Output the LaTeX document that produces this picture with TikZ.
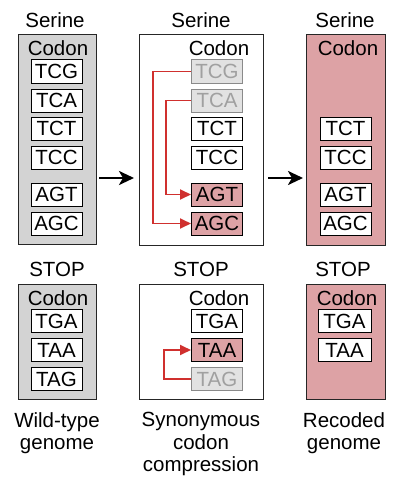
\documentclass[tikz,border=0pt]{standalone}
\usepackage{fontspec}
\setmainfont{Liberation Sans}
\usetikzlibrary{arrows.meta}
\definecolor{panelgray}{HTML}{D3D3D3}
\definecolor{pinkfill}{HTML}{DDA2A5}
\definecolor{ghostfill}{HTML}{E2E2E2}
\definecolor{ghostline}{HTML}{8A8A8A}
\definecolor{ghosttext}{HTML}{A0A0A0}
\definecolor{arrred}{HTML}{D0302E}
\begin{document}
\begin{tikzpicture}[x=1pt,y=-1pt,
  txt/.style={font=\fontsize{20.5}{22}\selectfont, inner sep=0pt},
  caption/.style={font=\fontsize{20.5}{22.5}\selectfont, inner sep=0pt, align=center, anchor=north},
  panel/.style={draw=black!85, line width=1pt},
  cbox/.style={draw=black, line width=1pt, fill=white, minimum width=51pt, minimum height=23pt, inner sep=0pt, font=\fontsize{20.5}{22}\selectfont},
  pinkbox/.style={cbox, fill=pinkfill},
  ghostbox/.style={cbox, fill=ghostfill, draw=ghostline, text=ghosttext},
  redarrow/.style={draw=arrred, line width=1.8pt, -{Triangle[length=11pt,width=10pt]}},
  blkarrow/.style={draw=black, line width=2.6pt, -{Stealth[length=15pt,width=14pt,inset=4pt]}}
]
\useasboundingbox (0,0) rectangle (401,495);
% ---------- top row ----------
\node[txt] (s1) at (55,20) {Serine};
\node[txt] (s2) at (201,20) {Serine};
\node[txt] (s3) at (345,20) {Serine};
\draw[panel, fill=panelgray] (18,35) rectangle (96,244);
\draw[panel, fill=white] (139,35) rectangle (263,245);
\draw[panel, fill=pinkfill] (306,35) rectangle (385,245);
\node[txt] (c1) at (58,48) {Codon};
\node[txt] (c2) at (219,48) {Codon};
\node[txt] (c3) at (348,48) {Codon};
% panel 1
\node[cbox] (a1) at (56.5,71.5) {TCG};
\node[cbox] (a2) at (56.5,100.5) {TCA};
\node[cbox] (a3) at (56.5,128.5) {TCT};
\node[cbox] (a4) at (56.5,157.5) {TCC};
\node[cbox] (a5) at (56.5,194.5) {AGT};
\node[cbox] (a6) at (56.5,223.5) {AGC};
% panel 2
\node[ghostbox] (b1) at (217,71.5) {TCG};
\node[ghostbox] (b2) at (217,100.5) {TCA};
\node[cbox] (b3) at (217,128.5) {TCT};
\node[cbox] (b4) at (217,157.5) {TCC};
\node[pinkbox] (b5) at (217,194.5) {AGT};
\node[pinkbox] (b6) at (217,223.5) {AGC};
% panel 3
\node[cbox] (d3) at (345.5,128.5) {TCT};
\node[cbox] (d4) at (345.5,157.5) {TCC};
\node[cbox] (d5) at (345.5,194.5) {AGT};
\node[cbox] (d6) at (345.5,223.5) {AGC};
% red arrows
\draw[redarrow] (b1.west) -| (153,223.5) -- (b6.west);
\draw[redarrow] (b2.west) -| (166,194.5) -- (b5.west);
% black arrows
\coordinate (k1) at (99,178);
\coordinate (k2) at (134,178);
\coordinate (k3) at (268,178);
\coordinate (k4) at (303,178);
\draw[blkarrow] (k1) -- (k2);
\draw[blkarrow] (k3) -- (k4);
% ---------- bottom row ----------
\node[txt] (t1) at (57,269) {STOP};
\node[txt] (t2) at (201,269) {STOP};
\node[txt] (t3) at (343,269) {STOP};
\draw[panel, fill=panelgray] (18,284) rectangle (96,399);
\draw[panel, fill=white] (139,284) rectangle (263,399);
\draw[panel, fill=pinkfill] (306,284) rectangle (385,399);
\node[txt] (e1) at (58,298) {Codon};
\node[txt] (e2) at (219,298) {Codon};
\node[txt] (e3) at (347,298) {Codon};
\node[cbox] (f1) at (56.5,321) {TGA};
\node[cbox] (f2) at (56.5,350) {TAA};
\node[cbox] (f3) at (56.5,379) {TAG};
\node[cbox] (g1) at (217,321) {TGA};
\node[pinkbox] (g2) at (217,350) {TAA};
\node[ghostbox] (g3) at (217,379) {TAG};
\node[cbox, minimum width=53pt] (h1) at (344.5,321) {TGA};
\node[cbox, minimum width=53pt] (h2) at (344.5,350) {TAA};
\draw[redarrow] (g3.west) -| (164,350) -- (g2.west);
% captions
\node[caption] (w) at (57,412) {Wild-type\\genome};
\node[caption] (x) at (201,412) {Synonymous\\codon\\compression};
\node[caption] (y) at (344,412) {Recoded\\genome};
\end{tikzpicture}
\end{document}
